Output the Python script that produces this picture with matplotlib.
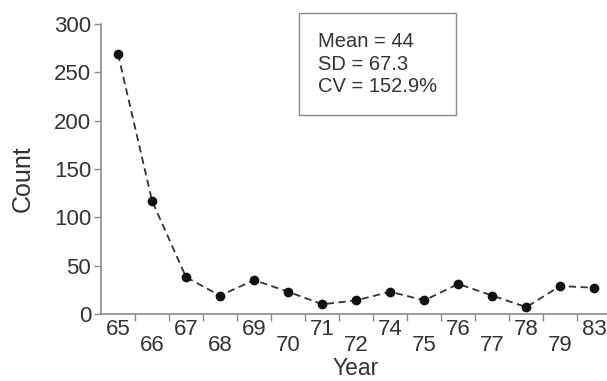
import matplotlib
matplotlib.use("Agg")
import matplotlib.pyplot as plt
import matplotlib.transforms as mtransforms
import numpy as np

#### data ####
years = ["65", "66", "67", "68", "69", "70", "71", "72",
         "74", "75", "76", "77", "78", "79", "83"]
counts = [269, 117, 38, 19, 35, 23, 10, 14, 23, 14, 31, 19, 7, 29, 27]
stats_lines = ["Mean = 44", "SD = 67.3", "CV = 152.9%"]

plt.rcParams['font.family'] = ['Liberation Sans', 'DejaVu Sans']
grey = '#8a8a8a'
txt = '#333333'

fig = plt.figure(figsize=(6.07, 3.81), dpi=100)
ax = fig.add_axes([0.1664, 0.176, 0.838, 0.761])

x = np.arange(len(years))
ax.plot(x, counts, linestyle=(0, (4, 2.5)), color='#333333', lw=1.3,
        marker='o', markersize=6, markerfacecolor='#111111',
        markeredgecolor='#111111')

ax.set_xlim(-0.5, len(years) - 0.55)
ax.set_ylim(0, 300)
ax.set_yticks([0, 50, 100, 150, 200, 250, 300])

# labels on the points, tick marks on the boundaries
ax.set_xticks(x)
ax.set_xticklabels(years)
ax.set_xticks(x[:-1] + 0.5, minor=True)
ax.tick_params(axis='x', which='major', length=0, pad=4, labelsize=16, labelcolor=txt)
ax.tick_params(axis='x', which='minor', length=5, width=1, color=grey, direction='out')
ax.tick_params(axis='y', length=5, width=1, color=grey, labelsize=16, labelcolor=txt, pad=2)

# stagger every second year label downward
offset = mtransforms.ScaledTranslation(0, -16 / 100, fig.dpi_scale_trans)
for i, lab in enumerate(ax.get_xticklabels()):
    if i % 2 == 1:
        lab.set_transform(lab.get_transform() + offset)

for s in ['top', 'right']:
    ax.spines[s].set_visible(False)
for s in ['left', 'bottom']:
    ax.spines[s].set_color(grey)
    ax.spines[s].set_linewidth(1.2)

ax.set_xlabel("Year", fontsize=16.5, color=txt)
ax.xaxis.set_label_coords(0.5, -0.15)
fig.text(0.038, 0.53, "Count", rotation=90, fontsize=18, color=txt,
         ha='center', va='center')

ax.text(0.426, 0.862, "\n".join(stats_lines), transform=ax.transAxes,
        fontsize=14.5, color=txt, va='center', ha='left', linespacing=1.22,
        bbox=dict(boxstyle='square,pad=0.95', facecolor='white',
                  edgecolor=grey, linewidth=1))

fig.savefig("out.png", dpi=100)
